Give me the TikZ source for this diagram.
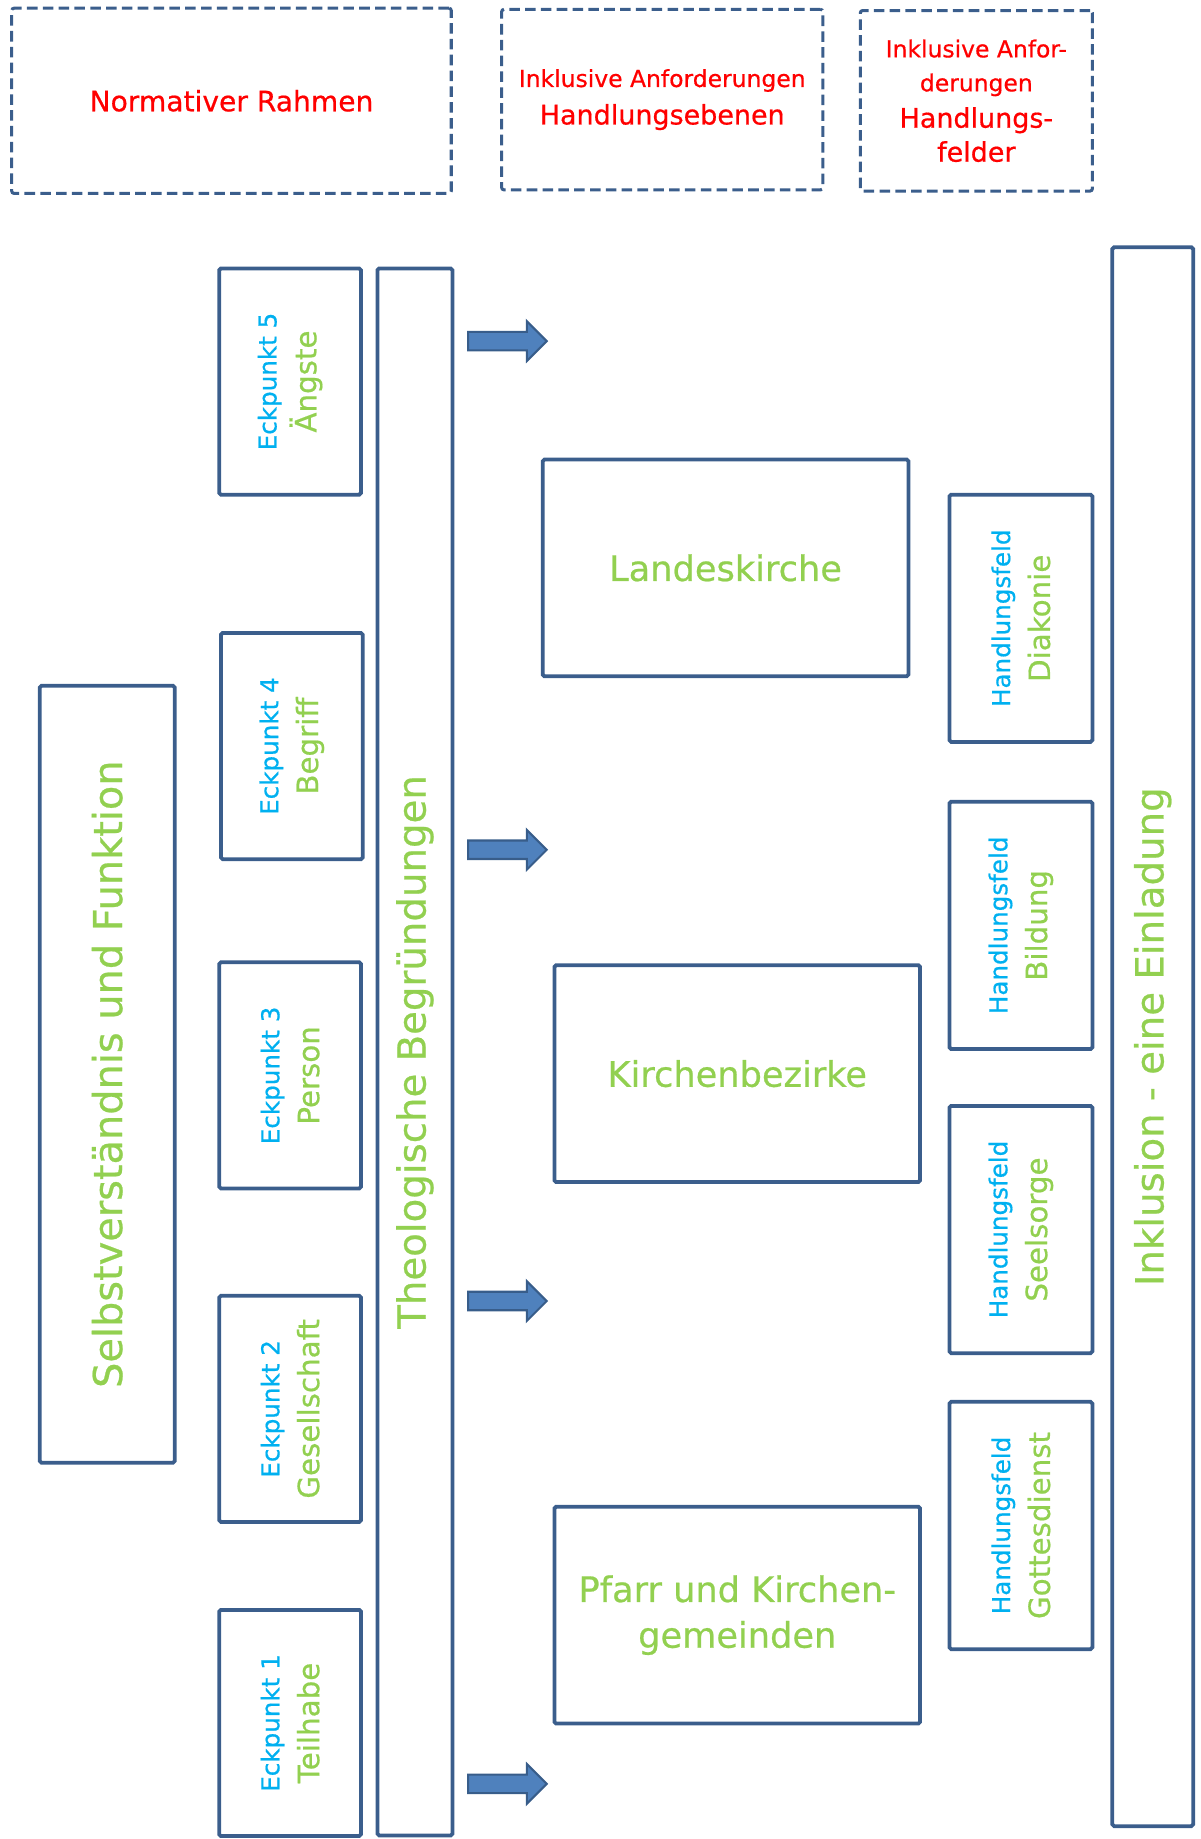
\documentclass[tikz,border=0pt]{standalone}
\usepackage{fontspec}
\setmainfont{DejaVu Sans}[FakeBold=0.6]
\usepackage{tikz}
\usetikzlibrary{shapes.arrows, positioning}

\definecolor{boxblue}{RGB}{59,94,140}
\definecolor{arrowfill}{RGB}{79,129,189}
\definecolor{arrowedge}{RGB}{56,93,138}
\definecolor{kblue}{RGB}{0,176,240}
\definecolor{kgreen}{RGB}{146,208,80}

% font size in picture units
\newcommand{\fsz}[2]{\fontsize{#1}{#2}\selectfont}

\begin{document}
\begin{tikzpicture}[
    x=1pt, y=-1pt,
    % Styles
    frame/.style={rectangle, draw=boxblue, line width=2.6pt, dash pattern=on 9pt off 4.5pt, rounded corners=2pt, text=red, align=center},
    pillar/.style={rectangle, draw=boxblue, line width=3.2pt, rounded corners=1.5pt, rotate=90, align=center, text=kgreen, inner sep=0pt},
    corner/.style={pillar, minimum width=193, minimum height=121, font=\fsz{21}{34}}, % Eckpunkte
    field/.style={pillar, minimum width=211, minimum height=122, font=\fsz{21}{34}}, % Handlungsfelder
    level/.style={rectangle, draw=boxblue, line width=3.2pt, rounded corners=1.5pt, minimum width=312, minimum height=185, align=center, text=kgreen, font=\fsz{30}{39}},
    push/.style={single arrow, draw=arrowedge, fill=arrowfill, line width=1.8pt, minimum height=67, inner sep=7pt, single arrow head extend=9pt, single arrow head indent=0pt}
]
\useasboundingbox (0,0) rectangle (1024,1569);

% --- Header (dashed frames) ---
\node[frame, minimum width=375, minimum height=158, font=\fsz{24}{30}] (rahmen) at (197.5,86) {Normativer Rahmen};
\node[frame, minimum width=274, minimum height=154, font=\fsz{20}{32}] (ebenen) at (565,85) {Inklusive Anforderungen\\{\fsz{23}{32}Handlungsebenen}};
\node[frame, minimum width=198, minimum height=154, font=\fsz{20}{29}] (felder) at (833,86) {Inklusive Anfor-\\derungen\\[2pt]{\fsz{23}{30}Handlungs-}\\{\fsz{23}{30}felder}};

% --- Left pillars ---
\node[pillar, minimum width=663, minimum height=115, font=\fsz{34}{40}] (selbst) at (91.5,916.5) {Selbstverständnis und Funktion};

\node[corner] (eck5) at (247.5,325.5) {{\color{kblue}Eckpunkt 5}\\{\fsz{25}{34}Ängste}};
\node[corner] (eck4) at (249,636.5) {{\color{kblue}Eckpunkt 4}\\{\fsz{25}{34}Begriff}};
\node[corner] (eck3) at (247.5,917.5) {{\color{kblue}Eckpunkt 3}\\{\fsz{25}{34}Person}};
\node[corner] (eck2) at (247.5,1202) {{\color{kblue}Eckpunkt 2}\\{\fsz{25}{34}Gesellschaft}};
\node[corner] (eck1) at (247.5,1470) {{\color{kblue}Eckpunkt 1}\\{\fsz{25}{34}Teilhabe}};

\node[pillar, minimum width=1337, minimum height=64, font=\fsz{33}{40}] (theo) at (354,897.5) {Theologische Begründungen};

% --- Arrows ---
\foreach \ay [count=\i] in {291,725,1110,1522}
    \node[push] (push\i) at (429,\ay) {};

% --- Handlungsebenen ---
\node[level] (landes) at (619,484.5) {Landeskirche};
\node[level] (bezirke) at (629,916) {Kirchenbezirke};
\node[level] (gemeinden) at (629,1378) {Pfarr und Kirchen-\\gemeinden};

% --- Handlungsfelder ---
\node[field] (diakonie) at (871,527.5) {{\color{kblue}Handlungsfeld}\\{\fsz{25}{34}Diakonie}};
\node[field] (bildung) at (871,789.5) {{\color{kblue}Handlungsfeld}\\{\fsz{25}{34}Bildung}};
\node[field] (seelsorge) at (871,1049) {{\color{kblue}Handlungsfeld}\\{\fsz{25}{34}Seelsorge}};
\node[field] (gottesdienst) at (871,1301.5) {{\color{kblue}Handlungsfeld}\\{\fsz{25}{34}Gottesdienst}};

% --- Right pillar ---
\node[pillar, minimum width=1347, minimum height=69, font=\fsz{33}{40}] (einladung) at (983.5,884.5) {Inklusion - eine Einladung};

\end{tikzpicture}
\end{document}
